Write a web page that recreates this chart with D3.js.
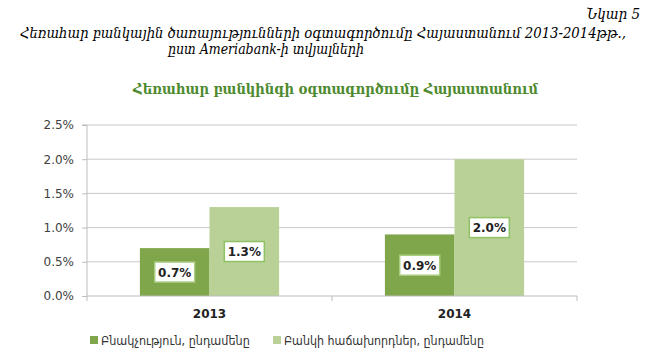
<!DOCTYPE html>
<html><head><meta charset="utf-8">
<script src="https://cdn.jsdelivr.net/npm/d3@7"></script>
<style>body{margin:0;background:#fff}svg{display:block}</style>
</head><body>
<svg id="c" width="646" height="358"></svg>
<script>
const categories = ["2013", "2014"];
const seriesNames = ["Բնակչություն, ընդամենը", "Բանկի հաճախորդներ, ընդամենը"];
const population = [0.7, 0.9];
const clients = [1.3, 2.0];
const yTicks = [0, 0.5, 1.0, 1.5, 2.0, 2.5];
const figLabel = "Նկար 5";
const captionLine1 = "Հեռահար բանկային ծառայությունների օգտագործումը Հայաստանում 2013-2014թթ.,";
const captionLine2 = "ըստ  Ameriabank-ի տվյալների";
const chartTitle = "Հեռահար բանկինգի օգտագործումը Հայաստանում";

const colors = ["#7fa64a", "#b9d196"];
const borders = ["#a9cc80", "#8fc264"];
const svg = d3.select("#c");
const m = {l: 87, r: 69, t: 125, b: 62};
const W = 646, H = 358;
const x0 = d3.scaleBand().domain(categories).range([m.l, W - m.r]).paddingInner(0).paddingOuter(0);
const x1 = d3.scaleBand().domain([0, 1]).range([0, x0.bandwidth()]).paddingInner(0).paddingOuter(0.76);
const y = d3.scaleLinear().domain([0, 2.5]).range([H - m.b, m.t]);

const serif = "'DejaVu Serif Condensed', 'DejaVu Serif', serif";
const sans = "'DejaVu Sans', sans-serif";
const sansC = "'DejaVu Sans Condensed', 'DejaVu Sans', sans-serif";

function fit(sel, target, maxSize) {
  sel.attr("font-size", maxSize);
  const w = sel.node().getComputedTextLength();
  if (w > target) sel.attr("font-size", (maxSize * target / w).toFixed(2));
  return sel;
}

svg.append("text").attr("x", 640).attr("y", 19).attr("text-anchor", "end")
  .attr("font-family", serif).attr("font-style", "italic").attr("font-size", 15).attr("fill", "#000").text(figLabel);
fit(svg.append("text").attr("x", 20).attr("y", 38).attr("text-anchor", "start")
  .attr("font-family", serif).attr("font-style", "italic").attr("fill", "#000").text(captionLine1), 606, 15);
fit(svg.append("text").attr("x", 168).attr("y", 54).attr("text-anchor", "start")
  .attr("font-family", serif).attr("font-style", "italic").attr("fill", "#000").text(captionLine2), 196, 15);

fit(svg.append("text").attr("x", 133).attr("y", 94).attr("text-anchor", "start")
  .attr("font-family", serif).attr("font-weight", "bold").attr("fill", "#4e8a30").text(chartTitle), 405, 18);

// grid
const g = svg.append("g");
g.selectAll("line.grid").data(yTicks.filter(d => d > 0)).join("line")
  .attr("x1", m.l).attr("x2", W - m.r).attr("y1", d => y(d)).attr("y2", d => y(d))
  .attr("stroke", "#c8c8c8").attr("stroke-width", 1);

// bars
const data = categories.map((c, i) => ({c, vals: [population[i], clients[i]]}));
const groups = g.selectAll("g.grp").data(data).join("g").attr("transform", d => `translate(${x0(d.c)},0)`);
groups.selectAll("rect").data(d => d.vals.map((v, k) => ({v, k}))).join("rect")
  .attr("x", d => x1(d.k)).attr("width", x1.bandwidth())
  .attr("y", d => y(d.v)).attr("height", d => y(0) - y(d.v)).attr("fill", d => colors[d.k]);

// labels
groups.each(function(d) {
  const gg = d3.select(this);
  d.vals.forEach((v, k) => {
    const cx = x1(k) + x1.bandwidth() / 2;
    const cy = (y(v) + y(0)) / 2;
    const lbl = v.toFixed(1) + "%";
    gg.append("rect").attr("x", cx - 20).attr("y", cy - 10).attr("width", 40).attr("height", 20)
      .attr("fill", "#fff").attr("stroke", borders[k]).attr("stroke-width", 1.5);
    gg.append("text").attr("x", cx).attr("y", cy + 4.5).attr("text-anchor", "middle")
      .attr("font-family", sans).attr("font-weight", "bold").attr("font-size", 12).attr("fill", "#222").text(lbl);
  });
});

// axes
const yAxis = d3.axisLeft(y).tickValues(yTicks).tickFormat(d => d.toFixed(1) + "%").tickSize(5).tickPadding(8);
const ya = svg.append("g").attr("transform", `translate(${m.l},0)`).call(yAxis);
ya.select(".domain").attr("stroke", "#bdbdbd").attr("d", `M-5,${y(2.5)}H0V${y(0)}`);
ya.selectAll(".tick line").attr("stroke", "#bdbdbd");
ya.selectAll(".tick text").attr("font-family", sans).attr("font-size", 12).attr("fill", "#404040");

const xAxis = d3.axisBottom(x0).tickSize(0).tickPadding(13);
const xa = svg.append("g").attr("transform", `translate(0,${y(0)})`).call(xAxis);
xa.select(".domain").attr("stroke", "#bdbdbd").attr("d", `M${m.l},0H${W - m.r}`);
xa.selectAll(".tick text").attr("font-family", sans).attr("font-weight", "bold").attr("font-size", 12).attr("fill", "#222");
xa.selectAll("line.bt").data(x0.domain().map(c => x0(c)).concat([W - m.r])).join("line")
  .attr("x1", d => d).attr("x2", d => d).attr("y1", 0).attr("y2", 5).attr("stroke", "#bdbdbd");

// legend
const legX = [90, 273];
const legW = [149, 200];
seriesNames.forEach((s, k) => {
  svg.append("rect").attr("x", legX[k]).attr("y", 336).attr("width", 8).attr("height", 8).attr("fill", colors[k]);
  fit(svg.append("text").attr("x", legX[k] + 11).attr("y", 345).attr("font-family", sansC)
    .attr("fill", "#333").text(s), legW[k], 14);
});
</script>
</body></html>
